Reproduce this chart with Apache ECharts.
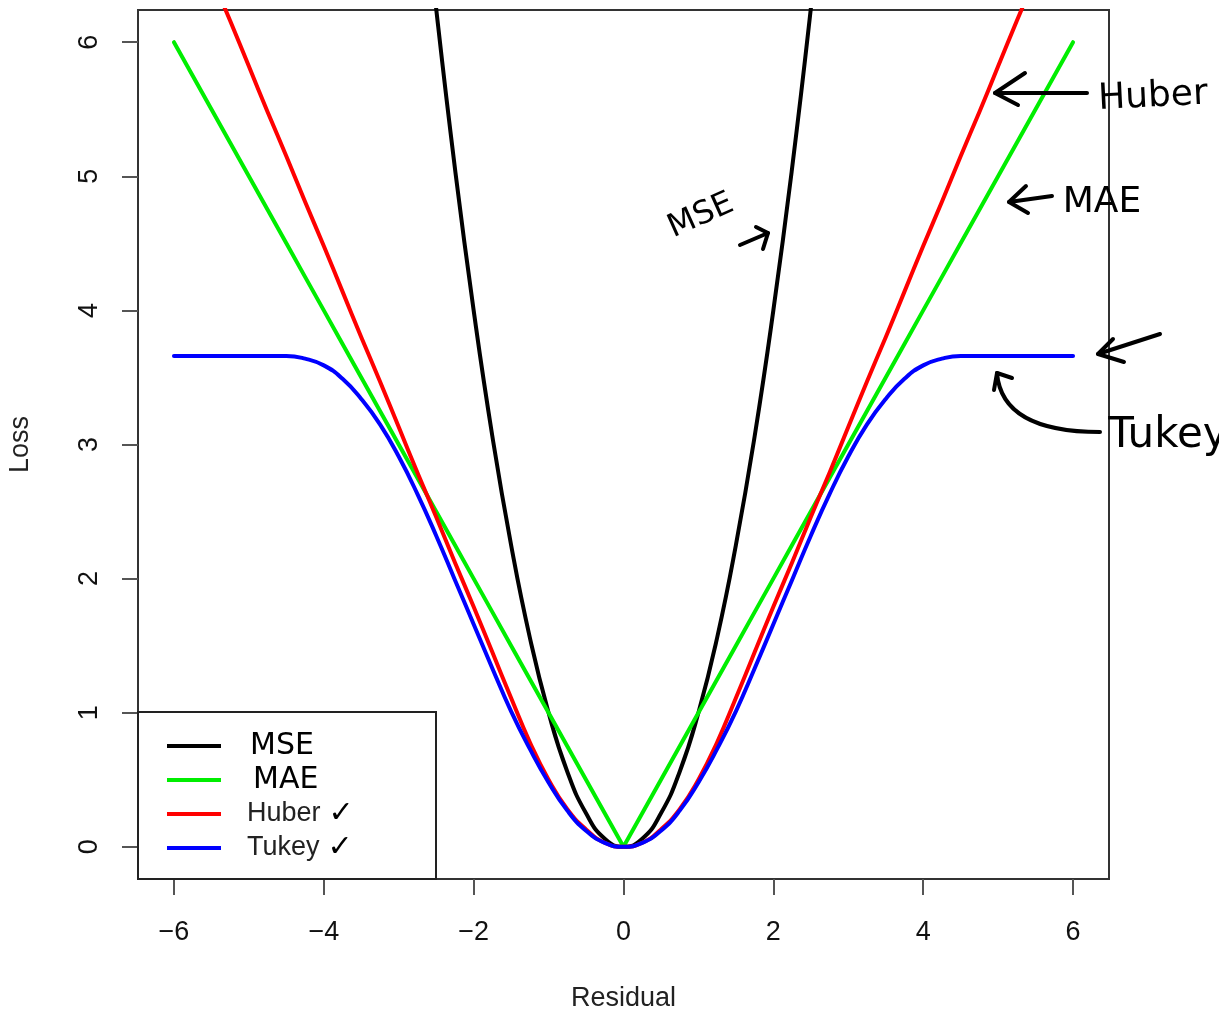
<!DOCTYPE html>
<html>
<head>
<meta charset="utf-8">
<script src="https://cdn.jsdelivr.net/npm/echarts@6/dist/echarts.min.js"></script>
<style>html,body{margin:0;padding:0;background:#fff}#c{width:1219px;height:1014px}</style>
</head>
<body>
<div id="c"></div>
<script>
// ---- data ----
const residual = [-6,-5.75,-5.5,-5.25,-5,-4.75,-4.5,-4.25,-4,-3.75,-3.5,-3.25,-3,-2.75,-2.5,-2.25,-2,-1.75,-1.5,-1.25,-1,-0.75,-0.5,-0.25,0,0.25,0.5,0.75,1,1.25,1.5,1.75,2,2.25,2.5,2.75,3,3.25,3.5,3.75,4,4.25,4.5,4.75,5,5.25,5.5,5.75,6];
const mse = [36,33.06,30.25,27.56,25,22.56,20.25,18.06,16,14.06,12.25,10.56,9,7.56,6.25,5.06,4,3.06,2.25,1.56,1,0.56,0.25,0.06,0,0.06,0.25,0.56,1,1.56,2.25,3.06,4,5.06,6.25,7.56,9,10.56,12.25,14.06,16,18.06,20.25,22.56,25,27.56,30.25,33.06,36];
const mae = [6,5.75,5.5,5.25,5,4.75,4.5,4.25,4,3.75,3.5,3.25,3,2.75,2.5,2.25,2,1.75,1.5,1.25,1,0.75,0.5,0.25,0,0.25,0.5,0.75,1,1.25,1.5,1.75,2,2.25,2.5,2.75,3,3.25,3.5,3.75,4,4.25,4.5,4.75,5,5.25,5.5,5.75,6];
const huber = [7.17,6.83,6.49,6.16,5.82,5.48,5.15,4.81,4.48,4.14,3.80,3.47,3.13,2.79,2.46,2.12,1.79,1.45,1.11,0.78,0.5,0.28,0.13,0.03,0,0.03,0.13,0.28,0.5,0.78,1.11,1.45,1.79,2.12,2.46,2.79,3.13,3.47,3.80,4.14,4.48,4.81,5.15,5.48,5.82,6.16,6.49,6.83,7.17];
const tukey = [3.66,3.66,3.66,3.66,3.66,3.66,3.66,3.64,3.59,3.49,3.34,3.15,2.91,2.63,2.32,1.99,1.66,1.33,1.01,0.73,0.48,0.27,0.12,0.03,0,0.03,0.12,0.27,0.48,0.73,1.01,1.33,1.66,1.99,2.32,2.63,2.91,3.15,3.34,3.49,3.59,3.64,3.66,3.66,3.66,3.66,3.66,3.66,3.66];
const xTicks = [-6,-4,-2,0,2,4,6];
const yTicks = [0,1,2,3,4,5,6];
const seriesNames = ['MSE','MAE','Huber','Tukey'];
const seriesColors = ['#000000','#00ee00','#ff0000','#0000ff'];
const seriesValues = [mse, mae, huber, tukey];
const seriesSmooth = [0.5, false, 0.5, 0.5];

const FONT = 'Liberation Sans, Arial, sans-serif';
const HAND = 'DejaVu Sans, sans-serif';
const fmt = v => (v < 0 ? '\u2212' + (-v) : String(v));

const chart = echarts.init(document.getElementById('c'), null, {renderer: 'canvas'});

const series = seriesNames.map((n, k) => ({
  name: n,
  type: 'line',
  data: residual.map((x, i) => [x, seriesValues[k][i]]),
  showSymbol: false,
  symbol: 'none',
  smooth: seriesSmooth[k],
  clip: true,
  color: seriesColors[k],
  lineStyle: {color: seriesColors[k], width: 4, cap: 'round', join: 'round'},
  z: 2 + k,
  animation: false
}));

function arrow(points) {
  return {type: 'polyline', z: 10, shape: {points: points},
    style: {stroke: '#000', lineWidth: 4, fill: null, lineCap: 'round', lineJoin: 'round'}};
}
function hand(text, x, y, size, rot) {
  return {type: 'text', z: 10, x: x, y: y, rotation: rot || 0,
    style: {text: text, font: 'normal ' + size + 'px ' + HAND, fill: '#000', align: 'center', verticalAlign: 'middle'}};
}

chart.setOption({
  animation: false,
  backgroundColor: '#fff',
  grid: {left: 138, top: 10, right: 110, bottom: 135, outerBoundsMode: 'none', containLabel: false,
    show: true, borderColor: '#333', borderWidth: 2, backgroundColor: 'transparent'},
  xAxis: {
    type: 'value', min: -6.48, max: 6.48,
    name: 'Residual', nameLocation: 'middle', nameGap: 106,
    nameTextStyle: {fontFamily: FONT, fontSize: 27, color: '#222', verticalAlign: 'top'},
    axisLine: {show: false, onZero: false},
    splitLine: {show: false},
    axisTick: {show: true, inside: false, length: 16, customValues: xTicks, lineStyle: {color: '#555', width: 2}},
    axisLabel: {customValues: xTicks, formatter: fmt, margin: 40, fontFamily: FONT, fontSize: 27, color: '#111'}
  },
  yAxis: {
    type: 'value', min: -0.24, max: 6.24,
    name: 'Loss', nameLocation: 'middle', nameGap: 104, nameRotate: 90,
    nameTextStyle: {fontFamily: FONT, fontSize: 27, color: '#222'},
    axisLine: {show: false, onZero: false},
    splitLine: {show: false},
    axisTick: {show: true, inside: false, length: 16, customValues: yTicks, lineStyle: {color: '#555', width: 2}},
    axisLabel: {customValues: yTicks, formatter: fmt, rotate: 90, margin: 35, fontFamily: FONT, fontSize: 27, color: '#111'}
  },
  legend: {
    orient: 'vertical', left: 162, top: 726,
    itemWidth: 54, itemHeight: 34, itemGap: 4,
    icon: 'path://M0,0 L54,0 L54,4 L0,4 Z',
    data: seriesNames,
    selectedMode: false,
    formatter: function (name) {
      if (name === 'MSE') return '{h|' + name + '}';
      if (name === 'MAE') return '{h2|' + name + '}';
      return '{n|' + name + '}{c|\u2713}';
    },
    textStyle: {
      rich: {
        h: {fontFamily: HAND, fontSize: 30, color: '#000', padding: [0, 0, 0, 24]},
        h2: {fontFamily: HAND, fontSize: 30, color: '#000', padding: [0, 0, 0, 27]},
        n: {fontFamily: FONT, fontSize: 27, color: '#222', padding: [0, 0, 0, 21]},
        c: {fontFamily: HAND, fontSize: 30, color: '#000', padding: [0, 0, 0, 8]}
      }
    },
    z: 6
  },
  graphic: [
    {type: 'rect', z: 4, shape: {x: 138, y: 712, width: 298, height: 167}, style: {fill: '#fff', stroke: '#222', lineWidth: 2}},
    // Huber annotation
    arrow([[1087, 93], [995, 93]]),
    arrow([[1025, 73], [995, 93], [1018, 105]]),
    hand('Huber', 1153, 97, 36, 0.05),
    // MAE annotation
    arrow([[1052, 196], [1009, 202]]),
    arrow([[1026, 186], [1009, 202], [1028, 213]]),
    hand('MAE', 1102, 203, 36, 0),
    // MSE annotation
    hand('MSE', 701, 216, 32, 0.42),
    arrow([[740, 245], [768, 233]]),
    arrow([[756, 227], [768, 233], [763, 249]]),
    // plateau arrow
    arrow([[1160, 334], [1098, 354]]),
    arrow([[1113, 339], [1098, 354], [1124, 362]]),
    // Tukey annotation
    {type: 'bezierCurve', z: 10, shape: {x1: 1100, y1: 432, x2: 997, y2: 373, cpx1: 1030, cpy1: 432, cpx2: 1000, cpy2: 410},
      style: {stroke: '#000', lineWidth: 4, fill: null, lineCap: 'round'}},
    arrow([[994, 390], [997, 373], [1012, 378]]),
    hand('Tukey', 1168, 436, 42, 0)
  ],
  series: series
});
</script>
</body>
</html>
